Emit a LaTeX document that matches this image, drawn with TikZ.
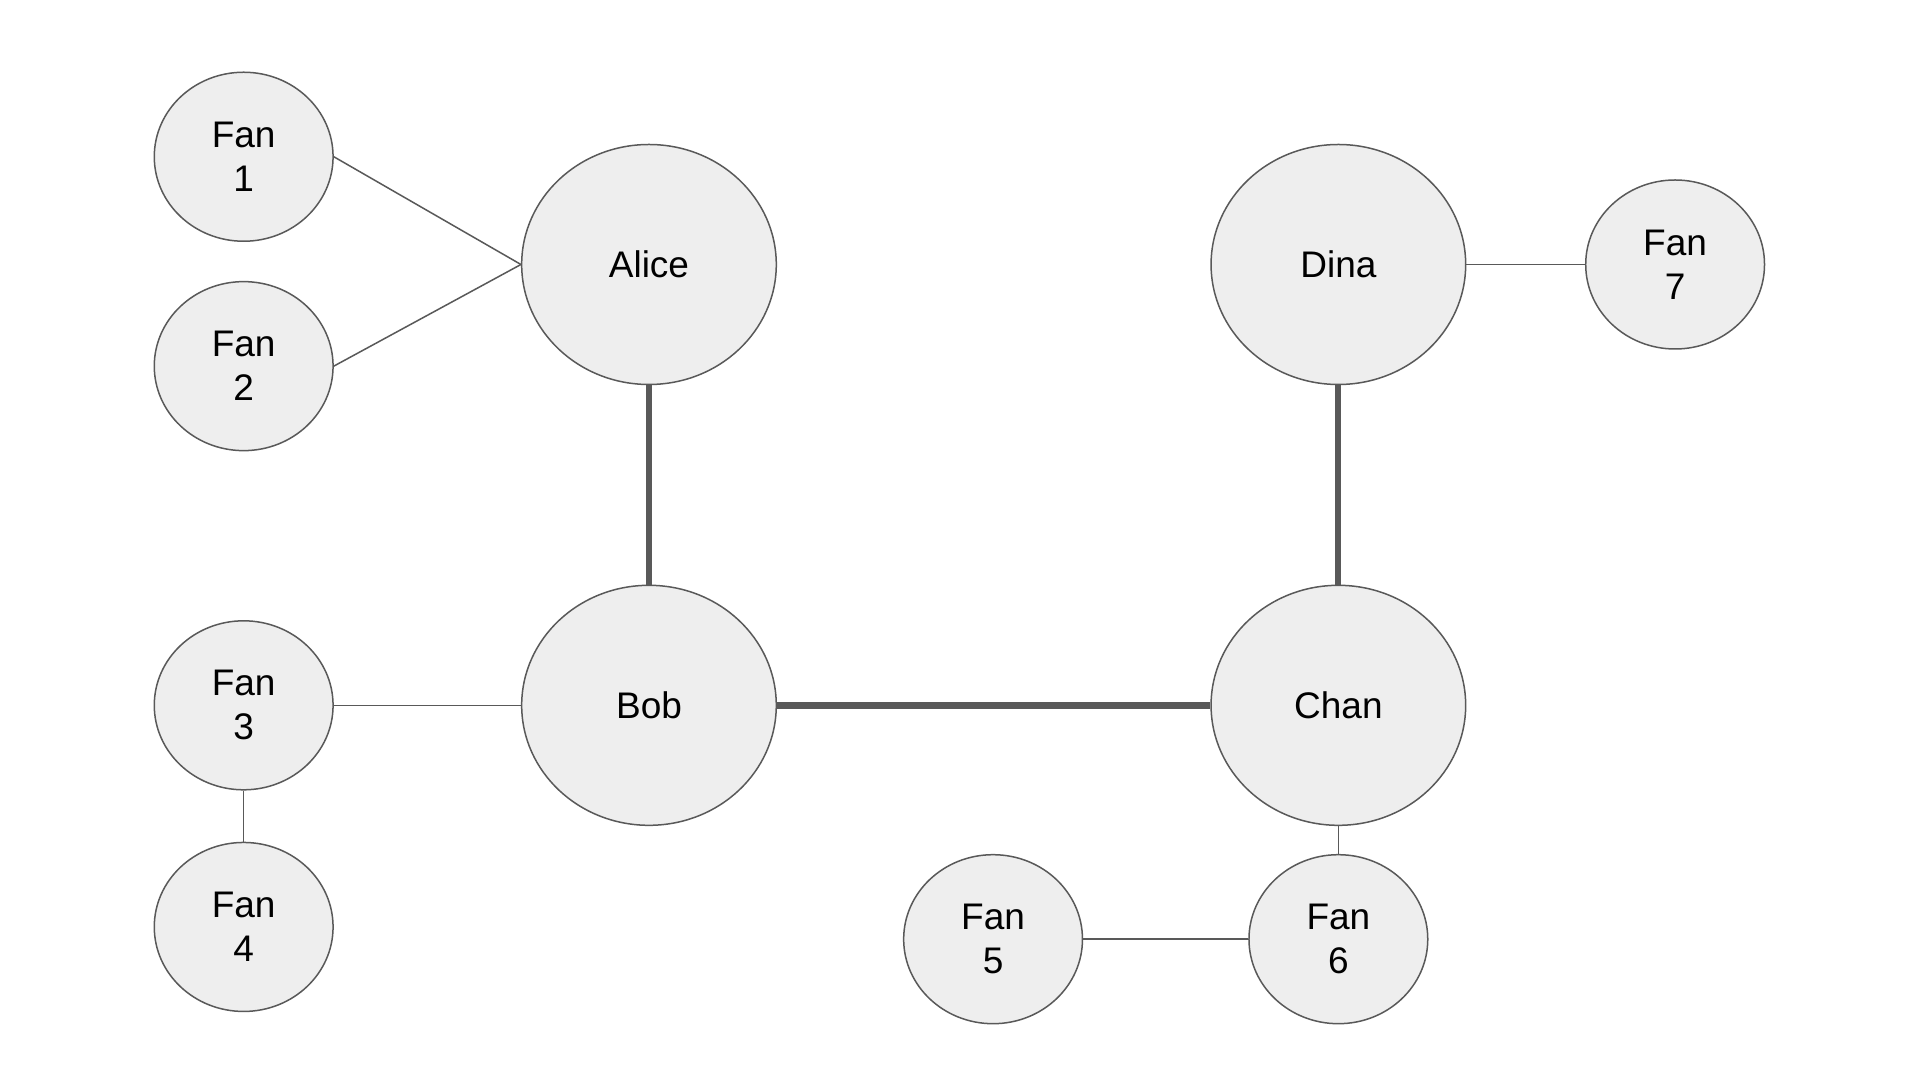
\documentclass[tikz,border=0pt]{standalone}
\usepackage{fontspec}
\setmainfont{Liberation Sans}
\usetikzlibrary{shapes.geometric}
\definecolor{nodefill}{HTML}{EEEEEE}
\definecolor{edgecol}{HTML}{595959}
\tikzset{
  person/.style={ellipse, draw=edgecol, line width=0.75pt, fill=nodefill, inner sep=0pt,
    minimum width=127.3pt, minimum height=120pt, align=center,
    font=\fontsize{18.5}{22}\selectfont},
  fan/.style={person, minimum width=89.4pt, minimum height=84.5pt},
  thin/.style={draw=edgecol, line width=0.75pt},
  strong/.style={draw=edgecol, line width=3pt},
}
\begin{document}
\begin{tikzpicture}[x=0.61225pt, y=-0.61225pt]
\useasboundingbox[fill=white] (0,0) rectangle (1568,882);
\node[person] (alice) at (530,216) {Alice};
\node[person] (dina) at (1093,216) {Dina};
\node[person] (bob) at (530,576) {Bob};
\node[person] (chan) at (1093,576) {Chan};
\node[fan] (f1) at (199,128) {Fan\\1};
\node[fan] (f2) at (199,299) {Fan\\2};
\node[fan] (f3) at (199,576) {Fan\\3};
\node[fan] (f4) at (199,757) {Fan\\4};
\node[fan] (f5) at (811,767) {Fan\\5};
\node[fan] (f6) at (1093,767) {Fan\\6};
\node[fan] (f7) at (1368,216) {Fan\\7};
\begin{scope}[on background layer/.style={}]
\end{scope}
\draw[thin] (f1.east) -- (alice.west);
\draw[thin] (f2.east) -- (alice.west);
\draw[thin] (f3.east) -- (bob.west);
\draw[thin] (f3.south) -- (f4.north);
\draw[thin] (dina.east) -- (f7.west);
\draw[thin] (chan.south) -- (f6.north);
\draw[thin] (f5.east) -- (f6.west);
\draw[strong] (alice.south) -- (bob.north);
\draw[strong] (dina.south) -- (chan.north);
\draw[strong, line width=3.5pt] (bob.east) -- (chan.west);
\end{tikzpicture}
\end{document}
